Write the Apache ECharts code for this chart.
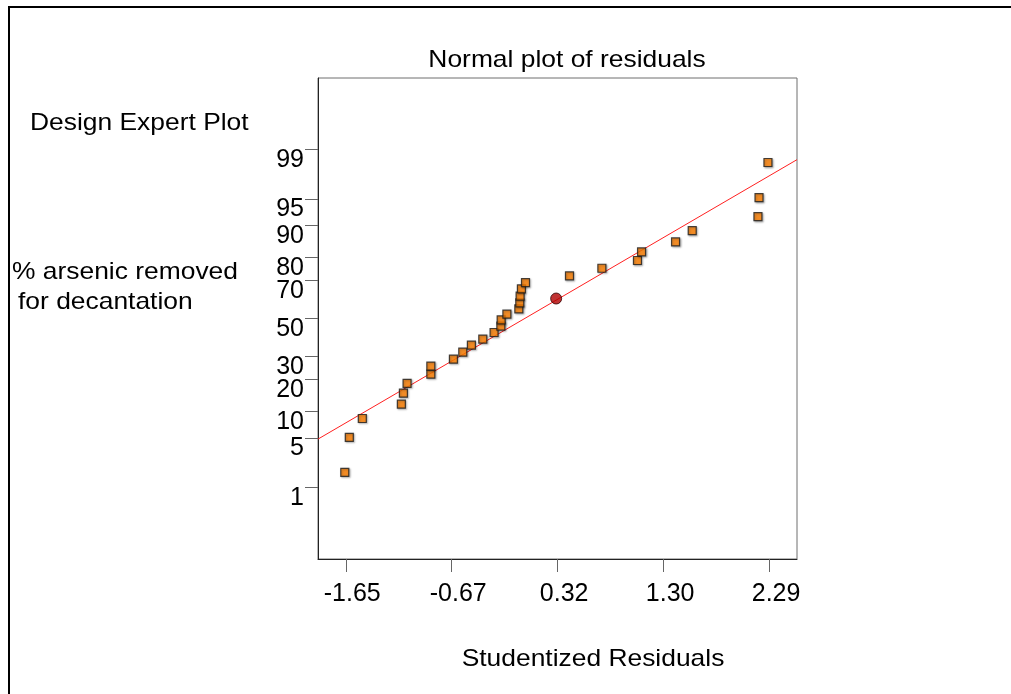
<!DOCTYPE html>
<html>
<head>
<meta charset="utf-8">
<title>Normal plot of residuals</title>
<script src="https://cdn.jsdelivr.net/npm/echarts@6/dist/echarts.min.js"></script>
<style>
  html, body { margin: 0; padding: 0; background: #ffffff; }
  #chart { width: 1011px; height: 694px; }
</style>
</head>
<body>
<div id="chart"></div>
<script>
// Studentized residuals (x) and their normal % probability (y)
const residuals = [
  -1.659, -1.617, -1.496, -1.133, -1.114, -1.080, -0.859, -0.859,
  -0.649, -0.562, -0.482, -0.376, -0.271, -0.208, -0.205, -0.152,
  -0.041, -0.032, -0.029, -0.017, 0.021, 0.430, 0.731, 1.062,
  1.100, 1.416, 1.571, 2.182, 2.192, 2.275
];
const probabilities = [
  1.71, 5.08, 8.44, 11.92, 15.20, 18.57, 22.18, 25.59,
  28.78, 32.14, 35.68, 38.79, 42.35, 45.78, 49.24, 52.36,
  55.25, 58.50, 62.05, 65.81, 68.97, 72.11, 75.55, 78.76,
  82.02, 85.40, 88.69, 91.97, 95.20, 98.41
];
// Highlighted run
const highlightResidual = [0.306];
const highlightProbability = [60.83];
// Reference line end points
const fitResiduals = [-1.908, 2.545];
const fitProbabilities = [4.85, 98.56];
// Axis ticks
const probTicks = [1, 5, 10, 20, 30, 50, 70, 80, 90, 95, 99];
const probTickLabels = ['1', '5', '10', '20', '30', '50', '70', '80', '90', '95', '99'];
const residualTicks = [-1.65, -0.665, 0.32, 1.305, 2.29];
const residualTickLabels = ['-1.65', '-0.67', '0.32', '1.30', '2.29'];
const residualRange = [-1.908, 2.545];
const zRange = [-3.31, 3.31];

// Inverse of the standard normal CDF (Acklam's rational approximation)
function probit(p) {
  const a = [-3.969683028665376e+01, 2.209460984245205e+02, -2.759285104469687e+02,
             1.383577518672690e+02, -3.066479806614716e+01, 2.506628277459239e+00];
  const b = [-5.447609879822406e+01, 1.615858368580409e+02, -1.556989798598866e+02,
             6.680131188771972e+01, -1.328068155288572e+01];
  const c = [-7.784894002430293e-03, -3.223964580411365e-01, -2.400758277161838e+00,
             -2.549732539343734e+00, 4.374664141464968e+00, 2.938163982698783e+00];
  const d = [7.784695709041462e-03, 3.224671290700398e-01, 2.445134137142996e+00,
             3.754408661907416e+00];
  const pl = 0.02425, ph = 1 - pl;
  let q, r;
  if (p < pl) {
    q = Math.sqrt(-2 * Math.log(p));
    return (((((c[0]*q+c[1])*q+c[2])*q+c[3])*q+c[4])*q+c[5]) /
           ((((d[0]*q+d[1])*q+d[2])*q+d[3])*q+1);
  }
  if (p <= ph) {
    q = p - 0.5; r = q * q;
    return (((((a[0]*r+a[1])*r+a[2])*r+a[3])*r+a[4])*r+a[5])*q /
           (((((b[0]*r+b[1])*r+b[2])*r+b[3])*r+b[4])*r+1);
  }
  q = Math.sqrt(-2 * Math.log(1 - p));
  return -(((((c[0]*q+c[1])*q+c[2])*q+c[3])*q+c[4])*q+c[5]) /
          ((((d[0]*q+d[1])*q+d[2])*q+d[3])*q+1);
}
const toZ = pct => probit(pct / 100);

function nearestLabel(values, labels, v) {
  let best = 0;
  for (let i = 1; i < values.length; i++) {
    if (Math.abs(values[i] - v) < Math.abs(values[best] - v)) best = i;
  }
  return labels[best];
}

const probTickZ = probTicks.map(toZ);
const FONT = '"Liberation Sans", Arial, Helvetica, sans-serif';

// Free text, drawn slightly wide like the original plot's lettering
function wideText(text, x, y, align) {
  return {
    type: 'text', silent: true, x: x, y: y, scaleX: 1.1,
    style: { text: text, fill: '#000', font: '24px ' + FONT,
             textAlign: align, textVerticalAlign: 'middle' }
  };
}

const chart = echarts.init(document.getElementById('chart'), null, { renderer: 'canvas' });

chart.setOption({
  animation: false,
  backgroundColor: '#ffffff',
  grid: {
    left: 318, top: 78, right: 214, bottom: 135,
    show: true, borderColor: '#6e6e6e', borderWidth: 1, backgroundColor: 'transparent'
  },
  xAxis: {
    type: 'value',
    min: residualRange[0], max: residualRange[1],
    splitLine: { show: false },
    axisLine: { show: true, onZero: false, lineStyle: { color: '#222', width: 1 } },
    axisTick: {
      show: true, inside: false, length: 13,
      customValues: residualTicks,
      lineStyle: { color: '#666', width: 1 }
    },
    axisLabel: {
      show: true, margin: 23,
      customValues: residualTicks,
      padding: [0, 0, 0, 13],
      formatter: v => nearestLabel(residualTicks, residualTickLabels, v),
      color: '#000', fontFamily: FONT, fontSize: 25
    }
  },
  yAxis: {
    type: 'value',
    min: zRange[0], max: zRange[1],
    splitLine: { show: false },
    axisLine: { show: true, onZero: false, lineStyle: { color: '#222', width: 1 } },
    axisTick: {
      show: true, inside: false, length: 13,
      customValues: probTickZ,
      lineStyle: { color: '#666', width: 1 }
    },
    axisLabel: {
      show: true, margin: 14,
      customValues: probTickZ,
      verticalAlign: 'top',
      lineHeight: 21,
      formatter: v => nearestLabel(probTickZ, probTickLabels, v),
      color: '#000', fontFamily: FONT, fontSize: 25
    }
  },
  series: [
    {
      type: 'line',
      data: fitResiduals.map((x, i) => [x, toZ(fitProbabilities[i])]),
      symbol: 'none',
      lineStyle: { color: '#ff2020', width: 1 },
      silent: true,
      z: 2
    },
    {
      type: 'scatter',
      data: residuals.map((x, i) => [x, toZ(probabilities[i])]),
      symbol: 'rect',
      symbolSize: 8,
      itemStyle: {
        color: '#ff8000', borderColor: '#1a1a1a', borderWidth: 1.2,
        shadowColor: 'rgba(0,0,0,0.35)', shadowBlur: 2, shadowOffsetX: 1, shadowOffsetY: 1
      },
      z: 3
    },
    {
      type: 'scatter',
      data: highlightResidual.map((x, i) => [x, toZ(highlightProbability[i])]),
      symbol: 'circle',
      symbolSize: 11,
      itemStyle: { color: '#b00000', borderColor: '#300000', borderWidth: 1 },
      z: 4
    }
  ],
  graphic: [
    {
      type: 'rect', silent: true,
      shape: { x: 9, y: 7, width: 1200, height: 900 },
      style: { fill: 'none', stroke: '#000', lineWidth: 2 }
    },
    wideText('Normal plot of residuals', 567, 60, 'center'),
    wideText('Design Expert Plot', 30, 123, 'left'),
    wideText('% arsenic removed', 12, 272, 'left'),
    wideText('for decantation', 18, 302, 'left'),
    wideText('Studentized Residuals', 593, 659, 'center')
  ]
});
</script>
</body>
</html>
